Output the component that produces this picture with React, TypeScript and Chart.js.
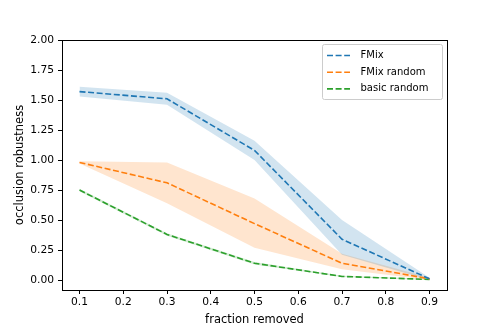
import React, { useEffect, useRef } from "react";
import { Chart, registerables } from "chart.js";

Chart.register(...registerables);

const xs = [0.1, 0.3, 0.5, 0.7, 0.9];
const fmixMean = [1.57, 1.51, 1.08, 0.34, 0.01];
const fmixLow = [1.53, 1.46, 1.0, 0.21, 0.0];
const fmixHigh = [1.61, 1.56, 1.16, 0.5, 0.02];
const fmixRandMean = [0.98, 0.81, 0.47, 0.14, 0.01];
const fmixRandLow = [0.97, 0.64, 0.27, 0.09, 0.0];
const fmixRandHigh = [0.99, 0.98, 0.68, 0.22, 0.02];
const basicMean = [0.75, 0.38, 0.14, 0.03, 0.005];
const basicLow = [0.74, 0.37, 0.13, 0.025, 0.0];
const basicHigh = [0.76, 0.39, 0.15, 0.035, 0.01];
const seriesNames = ["FMix", "FMix random", "basic random"];
const colors = ["#1f77b4", "#ff7f0e", "#2ca02c"];
const bandColors = ["rgba(31,119,180,0.2)", "rgba(255,127,14,0.2)", "rgba(44,160,44,0.2)"];

const FONT = "'DejaVu Sans', sans-serif";
const pts = (arr: number[]) => arr.map((y, i) => ({ x: xs[i], y }));

const framePlugin = {
  id: "frame",
  afterDraw(chart: any) {
    const { ctx, chartArea: a } = chart;
    ctx.save();
    ctx.strokeStyle = "#000";
    ctx.lineWidth = 1;
    ctx.strokeRect(Math.round(a.left) + 0.5, Math.round(a.top) + 0.5, Math.round(a.right - a.left), Math.round(a.bottom - a.top));
    // legend
    const bx = 322, by = 44, bw = 120, bh = 55;
    ctx.fillStyle = "rgba(255,255,255,0.8)";
    ctx.strokeStyle = "#cccccc";
    ctx.beginPath();
    (ctx as any).roundRect(bx + 0.5, by + 0.5, bw, bh, 2);
    ctx.fill();
    ctx.stroke();
    ctx.font = `10px ${FONT}`;
    ctx.textBaseline = "middle";
    seriesNames.forEach((name, i) => {
      const y = 55.5 + i * 16.7;
      ctx.strokeStyle = colors[i];
      ctx.lineWidth = 1.6;
      ctx.setLineDash([6, 2.6]);
      ctx.beginPath();
      ctx.moveTo(327, y);
      ctx.lineTo(350, y);
      ctx.stroke();
      ctx.setLineDash([]);
      ctx.fillStyle = "#000";
      ctx.fillText(name, 360.5, y);
    });
    ctx.restore();
  },
};

export default function App() {
  const ref = useRef<HTMLCanvasElement>(null);
  useEffect(() => {
    const datasets: any[] = [];
    const groups = [
      [fmixMean, fmixLow, fmixHigh],
      [fmixRandMean, fmixRandLow, fmixRandHigh],
      [basicMean, basicLow, basicHigh],
    ];
    groups.forEach(([mean, low, high], i) => {
      datasets.push({
        label: seriesNames[i] + " low",
        data: pts(low),
        borderWidth: 0,
        pointRadius: 0,
        fill: false,
        borderColor: "transparent",
        order: 10,
      });
      datasets.push({
        label: seriesNames[i] + " high",
        data: pts(high),
        borderWidth: 0,
        pointRadius: 0,
        borderColor: "transparent",
        backgroundColor: bandColors[i],
        fill: "-1",
        order: 10,
      });
    });
    groups.forEach(([mean], i) => {
      datasets.push({
        label: seriesNames[i],
        data: pts(mean),
        borderColor: colors[i],
        borderWidth: 1.6,
        borderDash: [6, 2.6],
        pointRadius: 0,
        fill: false,
        order: 1,
      });
    });
    const chart = new Chart(ref.current!, {
      type: "line",
      data: { datasets },
      plugins: [framePlugin],
      options: {
        animation: false,
        responsive: false,
        layout: { padding: { top: 40, right: 51, left: 0, bottom: 0 } },
        plugins: { legend: { display: false }, tooltip: { enabled: false } },
        scales: {
          x: {
            type: "linear",
            min: 0.06,
            max: 0.94,
            afterFit: (s: any) => { s.height = 42; },
            grid: { drawOnChartArea: false, drawTicks: true, tickLength: 4, color: "#000" },
            border: { display: false },
            ticks: {
              stepSize: 0.1,
              includeBounds: false,
              color: "#000",
              padding: 2,
              maxRotation: 0,
              font: { family: FONT, size: 10.7 },
              callback: (v: any) => Number(v).toFixed(1),
            },
            title: { display: true, text: "fraction removed", color: "#000", font: { family: FONT, size: 11.5 }, padding: { top: 0, bottom: 5 } },
          },
          y: {
            type: "linear",
            min: -0.083,
            max: 2.0,
            afterFit: (s: any) => { s.width = 62; },
            grid: { drawOnChartArea: false, drawTicks: true, tickLength: 4, color: "#000" },
            border: { display: false },
            ticks: {
              stepSize: 0.25,
              includeBounds: false,
              color: "#000",
              padding: 4,
              font: { family: FONT, size: 10.7 },
              callback: (v: any) => Number(v).toFixed(2),
            },
            title: { display: true, text: "occlusion robustness", color: "#000", font: { family: FONT, size: 11.5 }, padding: { top: 13, bottom: 0 } },
          },
        },
      },
    });
    return () => chart.destroy();
  }, []);
  return (
    <div style={{ position: "absolute", left: 0, top: 0, width: 498, height: 332, background: "#fff" }}>
      <canvas ref={ref} width={498} height={332} />
    </div>
  );
}
